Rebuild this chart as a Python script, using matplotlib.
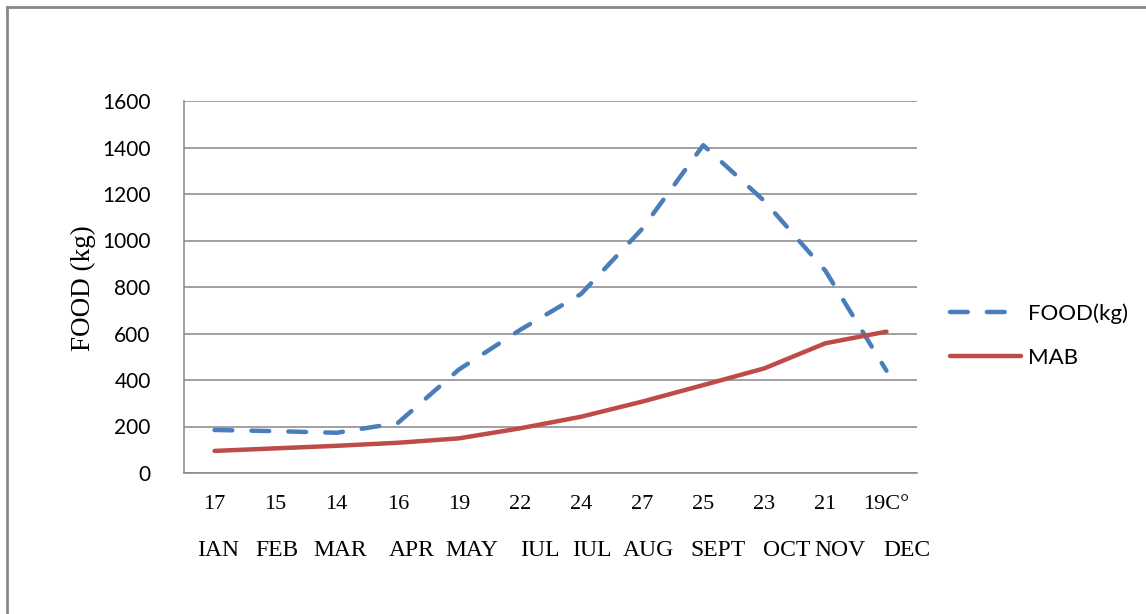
import matplotlib.pyplot as plt
from matplotlib.lines import Line2D

temps = ['17', '15', '14', '16', '19', '22', '24', '27', '25', '23', '21', '19C°']
months = ['IAN', 'FEB', 'MAR', 'APR', 'MAY', 'IUL', 'IUL', 'AUG', 'SEPT', 'OCT', 'NOV', 'DEC']
food = [185, 180, 173, 215, 445, 615, 770, 1050, 1410, 1170, 870, 440]
mab = [95, 106, 117, 130, 149, 192, 242, 307, 378, 450, 558, 608]

# pixel centres of the typed month names under the axis
month_px = [218, 277, 340, 412, 472, 540, 592, 648, 718, 787, 840, 907]

W, H = 1146, 614
fig = plt.figure(figsize=(W / 100, H / 100), dpi=100)
ax = fig.add_axes([184 / W, 1 - 473 / H, 733 / W, 372 / H])

x = range(len(months))
ax.plot(x, food, color='#4A7EBB', lw=3.2, dashes=(4, 4.3),
        dash_capstyle='round', label='FOOD(kg)')
ax.plot(x, mab, color='#BE4B48', lw=3.2, solid_capstyle='round', label='MAB')

ax.set_xlim(-0.5, len(months) - 0.5)
ax.set_ylim(0, 1600)
ax.set_yticks(range(0, 1601, 200))
ax.yaxis.grid(True, color='#868686', lw=1.1)
ax.set_axisbelow(True)
for s in ['top', 'right']:
    ax.spines[s].set_visible(False)
for s in ['left', 'bottom']:
    ax.spines[s].set_color('#868686')
    ax.spines[s].set_linewidth(1.1)

ax.tick_params(length=0)
ax.tick_params(axis='y', pad=24)
ax.tick_params(axis='x', pad=16)
for lbl in ax.get_yticklabels():
    lbl.set_fontfamily('Lato')
    lbl.set_fontsize(15)
ax.set_xticks(list(x), temps)
for lbl in ax.get_xticklabels():
    lbl.set_fontfamily('Liberation Serif')
    lbl.set_fontsize(16)

# month names below the temperatures
for px, m in zip(month_px, months):
    fig.text(px / W, 1 - 550 / H, m, family='Liberation Serif', fontsize=17,
             ha='center', va='center')

fig.text(83 / W, 1 - 288 / H, 'FOOD (kg)', family='Liberation Serif', fontsize=19.5,
         rotation=90, ha='center', va='center')

fig.legend(loc='upper left', bbox_to_anchor=(950 / W, 1 - 303 / H),
           frameon=False, borderpad=0, borderaxespad=0, handlelength=3.2,
           handletextpad=0.3, labelspacing=1.1,
           prop={'family': 'Lato', 'size': 16})

# frame around the chart area
fig.add_artist(Line2D([7 / W, 7 / W], [0, 1 - 7 / H], color='#888888', lw=2))
fig.add_artist(Line2D([7 / W, 1], [1 - 7 / H, 1 - 7 / H], color='#888888', lw=2))

fig.savefig('out.png', dpi=100)
